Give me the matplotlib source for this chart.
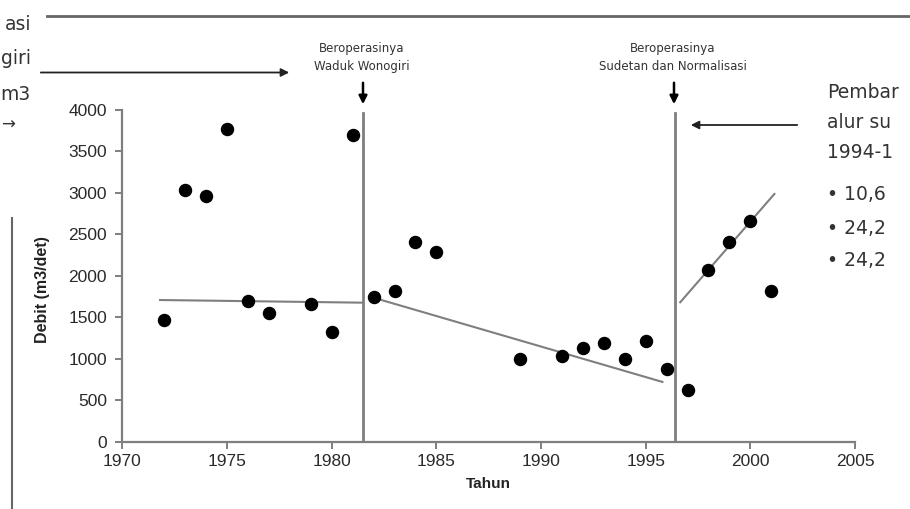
import matplotlib
matplotlib.use("Agg")
import matplotlib.pyplot as plt

# debit tahunan (m3/det)
years = [1972, 1973, 1974, 1975, 1976, 1977, 1979, 1980, 1981, 1982, 1983, 1984, 1985,
         1989, 1991, 1992, 1993, 1994, 1995, 1996, 1997, 1998, 1999, 2000, 2001]
debit = [1465, 3035, 2965, 3765, 1700, 1550, 1655, 1320, 3695, 1740, 1820, 2410, 2290,
         1000, 1035, 1130, 1185, 1000, 1210, 870, 625, 2070, 2410, 2660, 1815]

# garis tren per periode (awal, akhir)
trend_x = [[1971.8, 1981.5], [1982.2, 1995.8], [1996.65, 2001.15]]
trend_y = [[1707, 1675], [1720, 720], [1680, 2985]]

# batas periode
event_years = [1981.5, 1996.4]
event_top = 3960
event_labels = ["Beroperasinya\nWaduk Wonogiri", "Beroperasinya\nSudetan dan Normalisasi"]

right_lines = ["Pembar", "alur su", "1994-1"]
right_bullets = ["10,6", "24,2", "24,2"]
left_lines = ["asi", "giri", "m3"]

W, H = 910, 509
fig = plt.figure(figsize=(W / 100, H / 100), dpi=100)


def px(x, y):
    return x / W, 1 - y / H


ax = fig.add_axes([122.4 / W, (H - 441.7) / H, 732.6 / W, 332 / H])
gray = "#7f7f7f"

ax.scatter(years, debit, s=75, color="black", zorder=3)
for tx, ty in zip(trend_x, trend_y):
    ax.plot(tx, ty, color=gray, lw=1.5)
for ex in event_years:
    ax.plot([ex, ex], [0, event_top], color=gray, lw=2)

ax.set_xlim(1970, 2005)
ax.set_ylim(0, 4000)
ax.set_xticks(range(1970, 2006, 5))
ax.set_yticks(range(0, 4001, 500))
for s in ["top", "right"]:
    ax.spines[s].set_visible(False)
for s in ["left", "bottom"]:
    ax.spines[s].set_color(gray)
    ax.spines[s].set_linewidth(1.6)
ax.tick_params(colors=gray, width=1.4, length=5, labelcolor="#2a2a2a",
               labelsize=12.5)
ax.tick_params(axis="y", pad=6)
for lab in ax.get_xticklabels() + ax.get_yticklabels():
    lab.set_family("Liberation Sans")
ax.set_xlabel("Tahun", fontsize=11, fontweight="bold", family="Liberation Sans",
              labelpad=6, color="#222")

fig.text(*px(42, 343), "Debit (m3/det)", rotation=90, ha="center", va="bottom",
         fontsize=11.5, fontweight="bold", family="Liberation Sans", color="#222")

# keterangan di atas grafik
for lx, lab in zip([362, 673], event_labels):
    fig.text(*px(lx, 58), lab, ha="center", va="center", fontsize=8.5,
             color="#333", linespacing=1.5)
    fig.add_artist(plt.Annotation("", xy=px(lx + 1, 107), xytext=px(lx + 1, 80),
                                  xycoords="figure fraction",
                                  arrowprops=dict(arrowstyle="-|>", color="black",
                                                  lw=1.8, mutation_scale=12)))

fig.add_artist(plt.Annotation("", xy=px(292, 72.5), xytext=px(38, 72.5),
                              xycoords="figure fraction",
                              arrowprops=dict(arrowstyle="-|>", color="#222",
                                              lw=1.3, mutation_scale=12)))
fig.add_artist(plt.Annotation("", xy=px(688, 125), xytext=px(800, 125),
                              xycoords="figure fraction",
                              arrowprops=dict(arrowstyle="-|>", color="#222",
                                              lw=1.3, mutation_scale=12)))
fig.add_artist(plt.Line2D([47 / W, 1], [1 - 15.5 / H] * 2, color="#666", lw=2))
fig.add_artist(plt.Line2D([12 / W] * 2, [1 - 218 / H, 0], color="#666", lw=1.5))

# teks terpotong di tepi
for i, t in enumerate(right_lines):
    fig.text(*px(827, 93 + 30 * i), t, ha="left", va="center", fontsize=13.5,
             color="#333")
for i, t in enumerate(right_bullets):
    fig.text(*px(827, 195 + 33 * i), "\u2022 " + t, ha="left", va="center",
             fontsize=13.5, color="#333")
for i, t in enumerate(left_lines):
    fig.text(*px(31, 24 + 35 * i), t, ha="right", va="center", fontsize=13.5,
             color="#333")
fig.text(*px(1, 125), "\u2192", ha="left", va="center", fontsize=12, color="#333")

fig.savefig("out.png", dpi=100)
